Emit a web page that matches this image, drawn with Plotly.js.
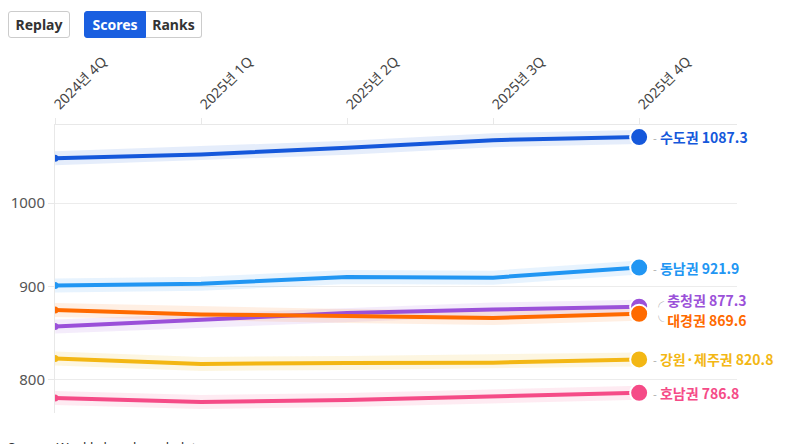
<!DOCTYPE html>
<html>
<head>
<meta charset="utf-8">
<script src="https://cdn.plot.ly/plotly-3.0.1.min.js"></script>
<style>
  html, body { margin:0; padding:0; background:#fff; width:790px; height:444px; overflow:hidden; font-family:"Noto Sans","Noto Sans CJK KR",sans-serif; }
  #chart { position:absolute; left:0; top:0; width:790px; height:444px; }
  .btn { position:absolute; top:11px; height:27px; box-sizing:border-box; font-weight:700; font-size:14px; line-height:25px; text-align:center; color:#333; background:#fff; border:1px solid #ccc; }
  #replay { left:8px; width:62px; border-radius:3px; }
  #scores { left:84px; width:62px; background:#1a5fe0; border-color:#1a5fe0; color:#fff; border-radius:3px 0 0 3px; }
  #ranks { left:146px; width:56px; border-left:none; border-radius:0 3px 3px 0; }
  #source { position:absolute; left:8px; top:438px; font-size:13px; color:#333; white-space:nowrap; }
</style>
</head>
<body>
<div id="chart"></div>
<div class="btn" id="replay">Replay</div>
<div class="btn" id="scores">Scores</div>
<div class="btn" id="ranks">Ranks</div>
<div id="source">Source: Weekly benchmark data</div>
<script>
const quarters = ["2024년 4Q", "2025년 1Q", "2025년 2Q", "2025년 3Q", "2025년 4Q"];
const regions = ["수도권", "동남권", "충청권", "대경권", "강원·제주권", "호남권"];
const sudogwon   = [1058.4, 1063.7, 1072.6, 1083.0, 1087.3];
const dongnamgwon = [901.2, 903.3, 910.8, 910.2, 921.9];
const chungcheong = [855.7, 863.0, 870.5, 874.3, 877.3];
const daegyeong  = [873.6, 868.7, 867.0, 865.0, 869.6];
const gangwonjeju = [821.6, 816.1, 817.1, 817.4, 820.8];
const honam      = [781.6, 777.7, 779.8, 783.7, 786.8];
const seriesValues = [sudogwon, dongnamgwon, chungcheong, daegyeong, gangwonjeju, honam];
const colors = ["#1558db", "#2196f3", "#9b51d9", "#ff6a00", "#f3b714", "#f54b87"];
const halos  = ["rgba(21,88,219,0.11)", "rgba(33,150,243,0.11)", "rgba(155,81,217,0.11)", "rgba(255,106,0,0.11)", "rgba(243,183,20,0.13)", "rgba(245,75,135,0.11)"];
const yTicks = [800, 900, 1000];
const labelShift = [0, 0, 7, -6, 0, 0];
const leader = ["-", "-", "╭", "╰", "-", "-"];

const traces = [];
seriesValues.forEach((vals, i) => {
  traces.push({
    type: "scatter", mode: "lines", x: quarters, y: vals,
    line: { color: halos[i], width: 14 }, hoverinfo: "skip", showlegend: false
  });
});
seriesValues.forEach((vals, i) => {
  const n = vals.length;
  traces.push({
    type: "scatter", mode: "lines", x: quarters, y: vals, name: regions[i],
    line: { color: colors[i], width: 4 }, showlegend: false
  });
  traces.push({
    type: "scatter", mode: "markers", x: [quarters[0]], y: [vals[0]],
    marker: { color: colors[i], size: 7, opacity: 1, line: { width: 0 } }, showlegend: false
  });
  traces.push({
    type: "scatter", mode: "markers", x: [quarters[n - 1]], y: [vals[n - 1]],
    marker: { color: colors[i], size: 18, opacity: 1, line: { color: "#ffffff", width: 2 } }, showlegend: false
  });
});

const annotations = seriesValues.map((vals, i) => {
  const last = vals[vals.length - 1];
  return {
    x: quarters[quarters.length - 1], y: Math.log10(last), xref: "x", yref: "y",
    xanchor: "left", yanchor: "middle", xshift: 12, yshift: labelShift[i],
    showarrow: false,
    text: '<span style="color:#aaa;font-weight:400;font-size:11px">' + leader[i] + '</span> <b>' + regions[i] + ' ' + last.toFixed(1) + '</b>',
    font: { family: "Noto Sans CJK KR, Noto Sans, sans-serif", size: 14, color: colors[i] }
  };
});

const layout = {
  width: 790, height: 444,
  margin: { l: 55, r: 53, t: 125, b: 31 },
  paper_bgcolor: "#fff", plot_bgcolor: "#fff",
  font: { family: "Noto Sans, Noto Sans CJK KR, sans-serif", color: "#444" },
  xaxis: {
    type: "category", side: "top", range: [0, 4.67],
    showgrid: false, zeroline: false,
    showline: true, linecolor: "#e8e8e8", linewidth: 1,
    ticks: "outside", ticklen: 6, tickcolor: "#e8e8e8",
    tickangle: -45, tickfont: { size: 14, color: "#444" }
  },
  yaxis: {
    type: "log", range: [Math.log10(767), Math.log10(1104)],
    tickvals: yTicks, ticktext: yTicks.map(String),
    showgrid: true, gridcolor: "#ececec", zeroline: false,
    showline: true, linecolor: "#e8e8e8", linewidth: 1,
    ticks: "outside", ticklen: 6, tickcolor: "#e8e8e8",
    tickfont: { size: 15, color: "#555" }
  },
  annotations: annotations,
  hovermode: false
};

Plotly.newPlot("chart", traces, layout, { displayModeBar: false, staticPlot: true });
</script>
</body>
</html>
